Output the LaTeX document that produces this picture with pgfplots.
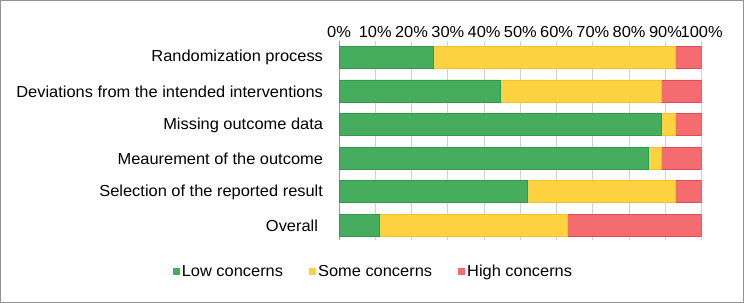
\documentclass[border=0pt]{standalone}
\usepackage{pgfplots}
\pgfplotsset{compat=1.18}
\usepackage{fontspec}
\setmainfont{Liberation Sans}[FakeStretch=1.03]
\definecolor{cgreen}{HTML}{46AD5F}
\definecolor{cgreenD}{HTML}{2F9A4B}
\definecolor{cyellow}{HTML}{FDD13F}
\definecolor{cyellowD}{HTML}{F3C12A}
\definecolor{cred}{HTML}{F46C70}
\definecolor{credD}{HTML}{E2485A}
\begin{document}
\fontsize{16}{19}\selectfont
\begin{tikzpicture}
\useasboundingbox (0,0) rectangle (744bp,303bp);
\draw[color=gray!85, line width=1bp] (0.5bp,0.5bp) rectangle (743.5bp,302.5bp);
\begin{axis}[
  at={(339bp,63bp)}, anchor=south west,
  scale only axis, width=362.7bp, height=198.5bp,
  xbar stacked, bar width=22bp,
  xmin=0, xmax=100, ymin=-0.47, ymax=5.4375, y dir=reverse,
  xtick={0,10,...,100}, xticklabel pos=top,
  xticklabel={\pgfmathprintnumber{\tick}\%},
  /pgf/number format/assume math mode=true,
  ytick={0,1,2,3,4,5},
  yticklabels={Randomization process,Deviations from the intended interventions,Missing outcome data,Meaurement of the outcome,Selection of the reported result,Overall\hspace*{5bp}},
  major tick length=0pt,
  xmajorgrids, major grid style={draw=black!18, line width=1bp},
  axis line style={draw=none},
  y tick label style={xshift=-10.5bp, yshift=-0.5bp},
  x tick label style={yshift=-1.5bp},
  legend columns=3,
  legend style={at={(axis description cs:0.095,-0.161)}, anchor=center, draw=none, fill=none,
    /tikz/every even column/.append style={column sep=24bp}},
  legend image code/.code={\draw[#1,draw=none] (0bp,-3.5bp) rectangle (7bp,3.5bp);},
]
\addplot[fill=cgreen, draw=cgreenD, line width=0.5bp] coordinates {(25.93,0) (44.44,1) (88.89,2) (85.19,3) (51.85,4) (11.11,5)};
\addplot[fill=cyellow, draw=cyellowD, line width=0.5bp] coordinates {(66.67,0) (44.44,1) (3.70,2) (3.70,3) (40.74,4) (51.85,5)};
\addplot[fill=cred, draw=credD, line width=0.5bp] coordinates {(7.41,0) (11.11,1) (7.41,2) (11.11,3) (7.41,4) (37.04,5)};
\legend{Low concerns,Some concerns,High concerns}
\draw[black!40, line width=1bp] (rel axis cs:0,0) -- (rel axis cs:0,1);
\end{axis}
\end{tikzpicture}
\end{document}
